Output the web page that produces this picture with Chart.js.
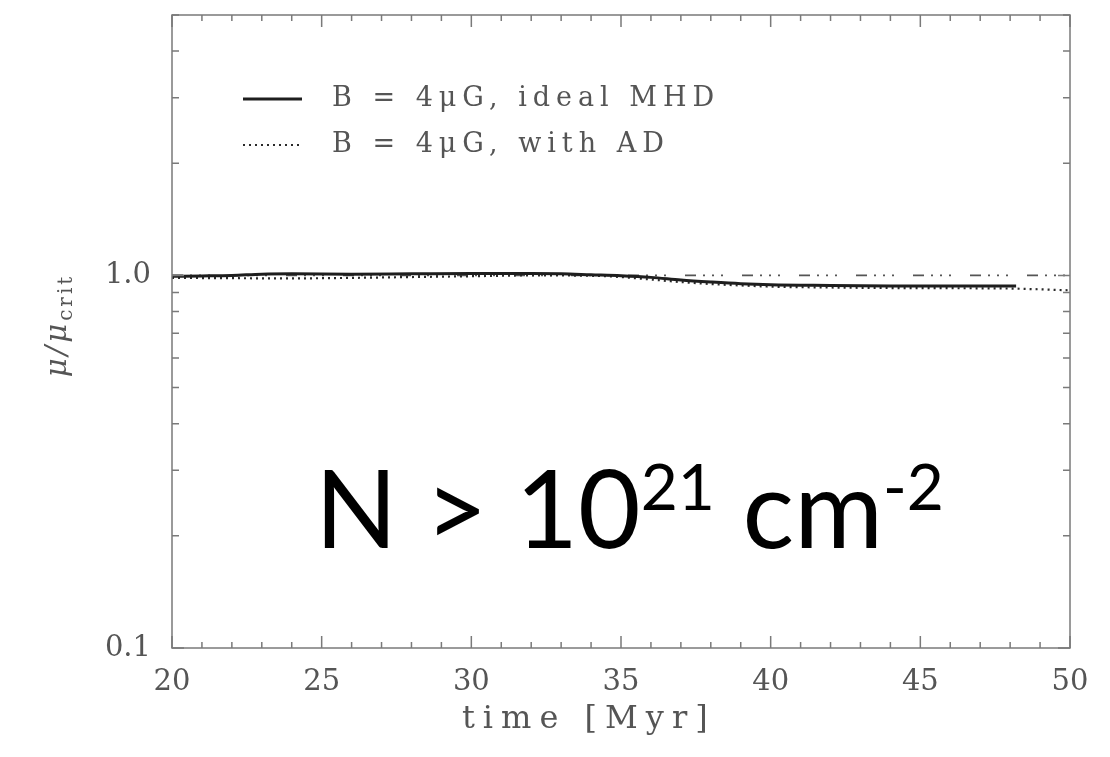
<!DOCTYPE html>
<html>
<head>
<meta charset="utf-8">
<script src="https://cdn.jsdelivr.net/npm/chart.js@4.4.0/dist/chart.umd.min.js"></script>
<style>
  html, body { margin: 0; padding: 0; background: #fff; }
  #wrap { width: 1110px; height: 757px; }
</style>
</head>
<body>
<div id="wrap"><canvas id="chart"></canvas></div>
<script>
// values
const idealTime = [20, 21, 22, 23, 24, 26, 28, 30, 32, 33, 34, 35, 36, 37, 38, 39, 40, 42, 44, 46, 48.2];
const idealMu   = [0.995, 0.997, 1.0, 1.008, 1.01, 1.008, 1.01, 1.012, 1.012, 1.01, 1.004, 0.998, 0.988, 0.972, 0.96, 0.95, 0.944, 0.94, 0.937, 0.936, 0.937];
const adTime = [20, 22, 24, 26, 28, 30, 32, 34, 35, 36, 37, 38, 39, 40, 42, 44, 46, 48, 50];
const adMu   = [0.985, 0.983, 0.982, 0.985, 0.99, 0.995, 1.0, 0.998, 0.99, 0.975, 0.96, 0.948, 0.94, 0.933, 0.928, 0.925, 0.924, 0.922, 0.912];
const critTime = [20, 50];
const critMu   = [1.0, 1.0];

const xMajorTicks = [20, 25, 30, 35, 40, 45, 50];
const xMinorTicks = [21, 22, 23, 24, 26, 27, 28, 29, 31, 32, 33, 34, 36, 37, 38, 39, 41, 42, 43, 44, 46, 47, 48, 49];
const yTickValues = [0.1, 1.0];
const yTickLabels = ['0.1', '1.0'];
const yMinorTicks = [0.2, 0.3, 0.4, 0.5, 0.6, 0.7, 0.8, 0.9, 2, 3, 4, 5];

const legendLabels = ['B = 4\u03bcG, ideal MHD', 'B = 4\u03bcG, with AD'];
const xTitle = 'time [Myr]';
const yTitleMain = '\u03bc/\u03bc';
const yTitleSub = 'crit';
const noteParts = [['N > 10', false], ['21', true], [' cm', false], ['-2', true]];

const serif = '"DejaVu Serif", "Liberation Serif", serif';
const greyText = '#555';

function pts(xs, ys) {
    return xs.map((x, i) => ({ x: x, y: ys[i] }));
}

// frame + inward ticks on all four sides
const frameTicks = {
    id: 'frameTicks',
    afterDraw(chart) {
        const ctx = chart.ctx;
        const a = chart.chartArea;
        const xs = chart.scales.x;
        const ys = chart.scales.y;
        ctx.save();
        ctx.strokeStyle = '#7a7a7a';
        ctx.lineWidth = 1.5;
        ctx.strokeRect(a.left, a.top, a.right - a.left, a.bottom - a.top);
        ctx.beginPath();
        const xt = (v, len) => {
            const p = xs.getPixelForValue(v);
            ctx.moveTo(p, a.bottom); ctx.lineTo(p, a.bottom - len);
            ctx.moveTo(p, a.top); ctx.lineTo(p, a.top + len);
        };
        const yt = (v, len) => {
            const p = ys.getPixelForValue(v);
            ctx.moveTo(a.left, p); ctx.lineTo(a.left + len, p);
            ctx.moveTo(a.right, p); ctx.lineTo(a.right - len, p);
        };
        xMajorTicks.forEach(v => xt(v, 12));
        xMinorTicks.forEach(v => xt(v, 6));
        yTickValues.forEach(v => yt(v, 12));
        yMinorTicks.forEach(v => yt(v, 7));
        ctx.stroke();
        ctx.restore();
    }
};

// titles, legend and the big label
const overlay = {
    id: 'overlay',
    afterDraw(chart) {
        const ctx = chart.ctx;
        const a = chart.chartArea;
        ctx.save();

        // x title
        ctx.fillStyle = greyText;
        ctx.font = '32px ' + serif;
        ctx.letterSpacing = '8px';
        ctx.textAlign = 'left';
        ctx.textBaseline = 'middle';
        ctx.fillText(xTitle, a.left + 290, a.bottom + 72);

        // y title, rotated
        ctx.save();
        ctx.translate(58, (a.top + a.bottom) / 2 - 6);
        ctx.rotate(-Math.PI / 2);
        ctx.letterSpacing = '3px';
        ctx.font = 'italic 29px ' + serif;
        const mainW = ctx.measureText(yTitleMain).width;
        ctx.font = '20px ' + serif;
        const subW = ctx.measureText(yTitleSub).width;
        ctx.textAlign = 'left';
        ctx.textBaseline = 'alphabetic';
        const x0 = -(mainW + subW) / 2;
        ctx.font = 'italic 29px ' + serif;
        ctx.fillText(yTitleMain, x0, 8);
        ctx.font = '20px ' + serif;
        ctx.fillText(yTitleSub, x0 + mainW, 14);
        ctx.restore();

        // legend
        ctx.letterSpacing = '6px';
        ctx.font = '27px ' + serif;
        ctx.textAlign = 'left';
        ctx.textBaseline = 'middle';
        legendLabels.forEach((label, i) => {
            const ds = chart.data.datasets[i];
            const y = a.top + 84 + i * 46;
            ctx.save();
            ctx.strokeStyle = ds.borderColor;
            ctx.lineWidth = ds.borderWidth;
            ctx.setLineDash(ds.borderDash || []);
            ctx.beginPath();
            ctx.moveTo(a.left + 71, y);
            ctx.lineTo(a.left + 130, y);
            ctx.stroke();
            ctx.restore();
            ctx.fillStyle = greyText;
            ctx.fillText(label, a.left + 160, y);
        });

        // N > 10^21 cm^-2
        ctx.letterSpacing = '0px';
        ctx.fillStyle = '#000';
        ctx.textBaseline = 'alphabetic';
        let x = a.left + 143;
        const base = a.top + 533;
        noteParts.forEach(([txt, sup]) => {
            ctx.font = (sup ? '64px ' : '108px ') + 'Lato, "Noto Sans", sans-serif';
            ctx.fillText(txt, x, sup ? base - 38 : base);
            x += ctx.measureText(txt).width;
        });

        ctx.restore();
    }
};

new Chart(document.getElementById('chart'), {
    type: 'line',
    data: {
        datasets: [{
            label: legendLabels[0],
            data: pts(idealTime, idealMu),
            borderColor: '#1e1e1e',
            borderWidth: 3,
            pointRadius: 0,
            cubicInterpolationMode: 'monotone'
        }, {
            label: legendLabels[1],
            data: pts(adTime, adMu),
            borderColor: '#2a2a2a',
            borderWidth: 2.2,
            borderDash: [2, 4],
            pointRadius: 0,
            cubicInterpolationMode: 'monotone'
        }, {
            label: 'critical',
            data: pts(critTime, critMu),
            borderColor: '#555',
            borderWidth: 1.6,
            borderDash: [11, 7, 2, 7, 2, 7, 2, 19],
            pointRadius: 0
        }]
    },
    options: {
        responsive: true,
        maintainAspectRatio: false,
        animation: false,
        layout: { padding: { top: 15, right: 40, left: 0, bottom: 0 } },
        plugins: {
            legend: { display: false },
            tooltip: { enabled: false }
        },
        scales: {
            x: {
                type: 'linear',
                min: 20,
                max: 50,
                afterBuildTicks: s => { s.ticks = xMajorTicks.map(v => ({ value: v })); },
                afterFit: s => { s.height = 109; s.paddingLeft = 0; s.paddingRight = 0; },
                grid: { display: false },
                border: { display: false },
                ticks: {
                    padding: 9,
                    color: greyText,
                    font: { family: serif, size: 29 },
                    maxRotation: 0,
                    callback: v => String(v)
                }
            },
            y: {
                type: 'logarithmic',
                min: 0.1,
                max: 5.0,
                afterBuildTicks: s => { s.ticks = yTickValues.map(v => ({ value: v })); },
                afterFit: s => { s.width = 172; s.paddingTop = 0; s.paddingBottom = 0; },
                grid: { display: false },
                border: { display: false },
                ticks: {
                    padding: 13,
                    color: greyText,
                    font: { family: serif, size: 29 },
                    callback: (v) => {
                        const i = yTickValues.indexOf(v);
                        return i >= 0 ? yTickLabels[i] : '';
                    }
                }
            }
        }
    },
    plugins: [frameTicks, overlay]
});
</script>
</body>
</html>
